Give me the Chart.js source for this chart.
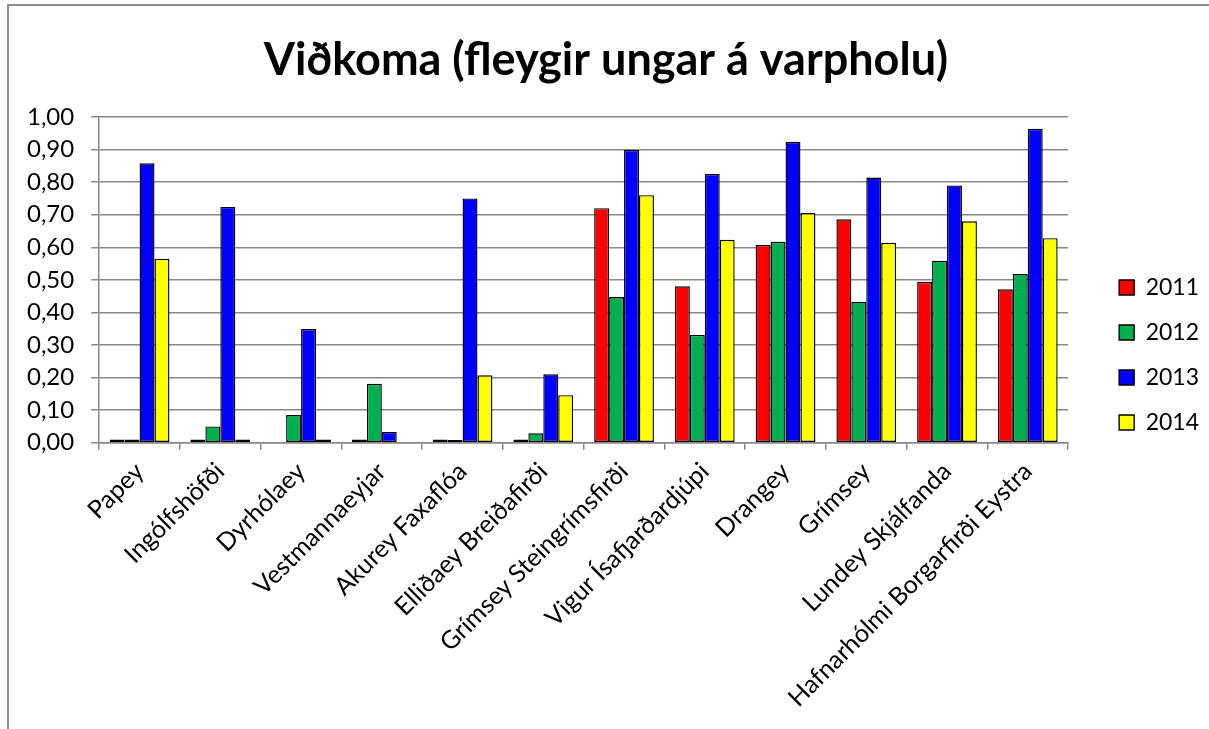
<!DOCTYPE html>
<html lang="is">
<head>
  <meta charset="UTF-8">
  <title>Viðkoma (fleygir ungar á varpholu)</title>
  <style>
    body { margin: 0; background: #fff; }
    /* wrapper keeps the canvas and the outer frame line together */
    #wrap { position: relative; width: 1209px; height: 729px; overflow: hidden; }
    #frame {
      position: absolute; left: 7px; top: 4px; width: 1300px; height: 900px;
      border-left: 2px solid #8c8c8c; border-top: 2px solid #8c8c8c;
    }
    canvas { position: absolute; left: 0; top: 0; }
  </style>
  <script src="https://cdn.jsdelivr.net/npm/chart.js"></script>
</head>
<body>
  <div id="wrap">
    <div id="frame"></div>
    <canvas id="chart" width="1209" height="729"></canvas>
  </div>

  <script>
    // Colonies (categories)
    const places = ['Papey', 'Ingólfshöfði', 'Dyrhólaey', 'Vestmannaeyjar', 'Akurey Faxaflóa',
      'Elliðaey Breiðafirði', 'Grímsey Steingrímsfirði', 'Vigur Ísafjarðardjúpi', 'Drangey',
      'Grímsey', 'Lundey Skjálfanda', 'Hafnarhólmi Borgarfirði Eystra'];

    // Fledged chicks per burrow
    const v2011 = [0.01, 0.01, 0.00, 0.01, 0.01, 0.01, 0.72, 0.48, 0.607, 0.686, 0.494, 0.471];
    const v2012 = [0.01, 0.05, 0.085, 0.181, 0.008, 0.029, 0.447, 0.331, 0.617, 0.433, 0.559, 0.518];
    const v2013 = [0.858, 0.724, 0.349, 0.033, 0.75, 0.21, 0.899, 0.825, 0.924, 0.814, 0.79, 0.964];
    const v2014 = [0.565, 0.01, 0.01, 0.002, 0.207, 0.146, 0.76, 0.623, 0.705, 0.614, 0.68, 0.628];

    const years = ['2011', '2012', '2013', '2014'];
    const colors = ['#FF0000', '#00B050', '#0000FF', '#FFFF00'];
    const series = [v2011, v2012, v2013, v2014];

    const gridGray = '#888888';
    const font = 'Lato';

    // nudge legend and title to where Excel put them
    const nudge = {
      id: 'nudge',
      afterLayout(chart) {
        const lg = chart.legend;
        lg.left += 29; lg.right += 29;
        lg.top -= 5; lg.bottom -= 5;
        const tb = chart.titleBlock;
        tb.left += 11; tb.right += 11;
      }
    };

    const ctx = document.getElementById('chart').getContext('2d');
    new Chart(ctx, {
      type: 'bar',
      data: {
        labels: places,
        datasets: series.map((data, i) => ({
          label: years[i],
          data: data,
          backgroundColor: colors[i],
          borderColor: '#000000',
          borderWidth: 1.4,
          borderSkipped: false,
          categoryPercentage: 0.74,
          barPercentage: 1.0
        }))
      },
      options: {
        responsive: false,
        animation: false,
        layout: {
          padding: { left: 10, right: 29, top: 0, bottom: 9 }
        },
        plugins: {
          title: {
            display: true,
            text: 'Viðkoma (fleygir ungar á varpholu)',
            color: '#000',
            font: { family: font, size: 45, weight: 'bold' },
            padding: { top: 33, bottom: 30 }
          },
          legend: {
            position: 'right',
            labels: {
              color: '#000',
              boxWidth: 15,
              boxHeight: 15,
              padding: 22,
              font: { family: font, size: 23 }
            }
          },
          tooltip: { enabled: false }
        },
        scales: {
          x: {
            grid: {
              drawOnChartArea: false,
              color: gridGray,
              lineWidth: 1.5,
              tickLength: 7
            },
            border: { color: gridGray, width: 1.5 },
            ticks: {
              color: '#000',
              autoSkip: false,
              minRotation: 45,
              maxRotation: 45,
              padding: 7,
              font: { family: font, size: 25 }
            }
          },
          y: {
            min: 0,
            max: 1,
            grid: {
              color: gridGray,
              lineWidth: 1.5,
              tickLength: 8
            },
            border: { color: gridGray, width: 1.5 },
            ticks: {
              stepSize: 0.1,
              color: '#000',
              padding: 17,
              font: { family: font, size: 24 },
              callback: v => v.toFixed(2).replace('.', ',')
            }
          }
        }
      },
      plugins: [nudge]
    });
  </script>
</body>
</html>
